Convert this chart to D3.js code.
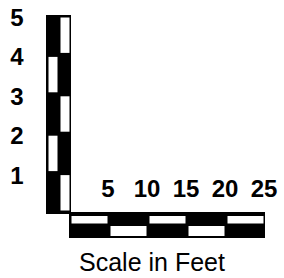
<!DOCTYPE html>
<html>
<head>
<meta charset="utf-8">
<script src="https://cdn.jsdelivr.net/npm/d3@7"></script>
<style>
  html, body { margin: 0; padding: 0; background: #fff; }
  svg { display: block; }
  text { fill: #000; font-family: "Liberation Sans", Arial, sans-serif; }
</style>
</head>
<body>
<svg id="chart" width="284" height="278"></svg>
<script>
// scale bar data
const heightTicks = [1, 2, 3, 4, 5];
const lengthTicks = [5, 10, 15, 20, 25];
// white half of each vertical segment, bottom to top
const heightWhite = ["right", "left", "right", "left", "right"];
// white half of each horizontal segment, left to right
const lengthWhite = ["top", "bottom", "top", "bottom", "top"];
const title = "Scale in Feet";

const svg = d3.select("#chart");

const y = d3.scaleLinear().domain([0, 5]).range([212, 15]);
const x = d3.scaleLinear().domain([0, 25]).range([70, 265]);

const vBar = { left: 46, right: 71 };
const hBar = { top: 212, bottom: 238 };
const vMid = (vBar.left + vBar.right) / 2 + 0.5;
const hMid = 224.5;

// vertical bar
svg.append("rect")
  .attr("x", vBar.left).attr("y", y(5))
  .attr("width", vBar.right - vBar.left).attr("height", y(0) - y(5) + 1)
  .attr("fill", "#000");

svg.selectAll("rect.vcell")
  .data(heightWhite)
  .join("rect")
  .attr("class", "vcell")
  .attr("x", d => d === "left" ? vBar.left + 2.5 : vMid + 1.5)
  .attr("width", d => d === "left" ? vMid - vBar.left - 4 : vBar.right - vMid - 3)
  .attr("y", (d, i) => y(i + 1) + 2.5)
  .attr("height", (d, i) => y(i) - y(i + 1) - 4)
  .attr("fill", "#fff");

// horizontal bar
svg.append("rect")
  .attr("x", x(0) - 1).attr("y", hBar.top)
  .attr("width", x(25) - x(0) + 1).attr("height", hBar.bottom - hBar.top)
  .attr("fill", "#000");

// shared corner line
svg.append("rect")
  .attr("x", vBar.left).attr("y", hBar.top)
  .attr("width", x(0) - vBar.left).attr("height", 2)
  .attr("fill", "#000");

svg.selectAll("rect.hcell")
  .data(lengthWhite)
  .join("rect")
  .attr("class", "hcell")
  .attr("x", (d, i) => x(i * 5) + 1.5)
  .attr("width", (d, i) => x(i * 5 + 5) - x(i * 5) - 3)
  .attr("y", d => d === "top" ? hBar.top + 4 : hMid + 1.5)
  .attr("height", d => d === "top" ? hMid - hBar.top - 5 : hBar.bottom - hMid - 3.5)
  .attr("fill", "#fff");

// labels
svg.selectAll("text.ylab")
  .data(heightTicks)
  .join("text")
  .attr("class", "ylab")
  .attr("x", 17)
  .attr("y", d => y(d) + 11)
  .attr("text-anchor", "middle")
  .attr("font-size", 24)
  .attr("font-weight", "bold")
  .text(d => d);

svg.selectAll("text.xlab")
  .data(lengthTicks)
  .join("text")
  .attr("class", "xlab")
  .attr("x", d => x(d) - 1)
  .attr("y", 197)
  .attr("text-anchor", "middle")
  .attr("font-size", 24)
  .attr("font-weight", "bold")
  .text(d => d);

svg.append("text")
  .attr("x", 152)
  .attr("y", 271)
  .attr("text-anchor", "middle")
  .attr("font-size", 25)
  .text(title);
</script>
</body>
</html>
